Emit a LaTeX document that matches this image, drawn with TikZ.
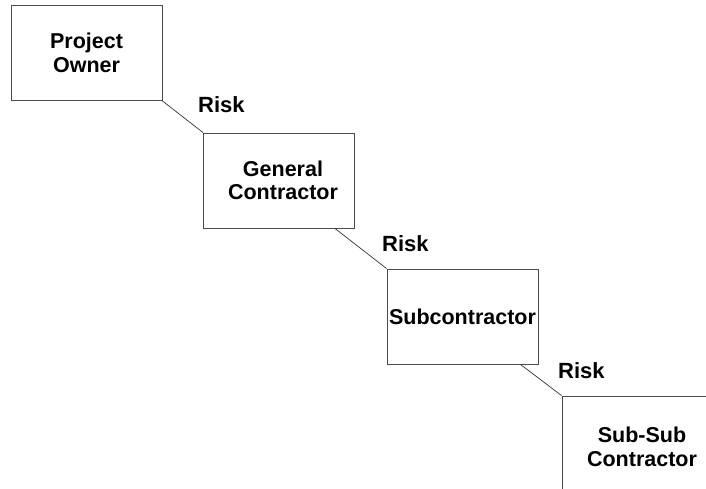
\documentclass[tikz,border=0pt]{standalone}
\usepackage{fontspec}
\setmainfont{Liberation Sans}

\begin{document}
\begin{tikzpicture}[x=1pt, y=-1pt,
    party/.style = {draw=black!70, line width=0.9pt, inner xsep=1pt, minimum width=151pt, minimum height=95pt, align=center, font=\bfseries\fontsize{21.5}{23.5}\selectfont},
    risk/.style = {anchor=base west, inner sep=0pt, font=\bfseries\fontsize{22}{24}\selectfont},
    link/.style = {draw=black!80, line width=0.7pt}]
                \useasboundingbox (0,0) rectangle (706,488);
                \clip (0,0) rectangle (706,488);

                \node[party] at (86.5, 53) (owner) {Project\\Owner};
                \node[party] at (279, 180.5) (general) {\hspace*{8pt}General\\\hspace*{8pt}Contractor};
                \node[party] at (462.5, 316.5) (sub) {Subcontractor};
                \node[party, minimum width=160pt, minimum height=102pt] at (642, 447) (subsub) {Sub-Sub\\Contractor};

                \node[risk] at (198, 112) (risk1) {Risk};
                \node[risk] at (382, 251) (risk2) {Risk};
                \node[risk] at (558, 378) (risk3) {Risk};

                \draw[link] (owner.south east) -- (general.north west);
                \draw[link] ([xshift=-20pt]general.south east) -- (sub.north west);
                \draw[link] ([xshift=-18pt]sub.south east) -- (subsub.north west);
            \end{tikzpicture}
\end{document}
